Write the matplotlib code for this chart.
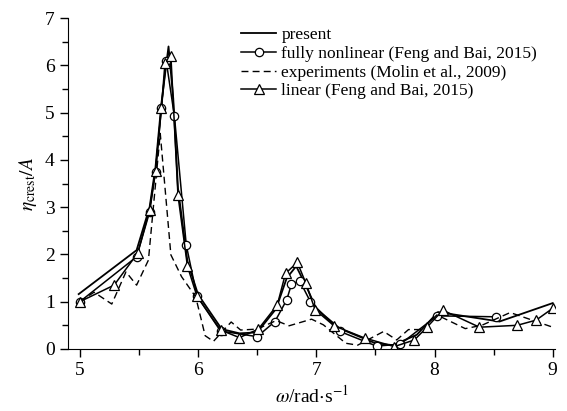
import matplotlib
matplotlib.use('Agg')
import matplotlib.pyplot as plt
from matplotlib.ticker import MultipleLocator

plt.rcParams['font.family'] = 'Liberation Serif'
plt.rcParams['mathtext.fontset'] = 'stix'
plt.rcParams['font.size'] = 14

# present (solid line)
present_x = [4.99, 5.48, 5.59, 5.64, 5.69, 5.75, 5.79, 5.83, 5.91, 6.0, 6.2, 6.35, 6.5,
             6.66, 6.75, 6.83, 6.92, 7.0, 7.2, 7.5, 7.65, 7.85, 8.03, 8.55, 9.0]
present_y = [1.16, 2.09, 3.0, 3.85, 5.2, 6.4, 5.3, 3.4, 1.85, 1.15, 0.42, 0.33, 0.35,
             0.85, 1.5, 1.75, 1.3, 0.85, 0.43, 0.12, 0.08, 0.3, 0.78, 0.58, 0.97]

# fully nonlinear (Feng and Bai, 2015)
nonlin_x = [5.0, 5.48, 5.59, 5.64, 5.69, 5.73, 5.80, 5.90, 5.99, 6.19, 6.5, 6.65, 6.75,
            6.79, 6.86, 6.95, 7.2, 7.51, 7.71, 8.02, 8.52]
nonlin_y = [1.0, 1.95, 2.9, 3.75, 5.1, 6.1, 4.92, 2.2, 1.12, 0.38, 0.26, 0.58, 1.04,
            1.37, 1.44, 1.0, 0.37, 0.06, 0.1, 0.7, 0.68]

# experiments (Molin et al., 2009)
exp_x = [5.0, 5.12, 5.27, 5.39, 5.48, 5.58, 5.68, 5.77, 5.86, 5.98, 6.06, 6.13, 6.28, 6.36,
         6.5, 6.66, 6.77, 6.96, 7.06, 7.25, 7.35, 7.57, 7.68, 7.78, 7.89, 8.02, 8.26, 8.4,
         8.64, 9.0]
exp_y = [1.0, 1.2, 0.95, 1.63, 1.35, 1.88, 4.56, 1.99, 1.53, 1.1, 0.28, 0.16, 0.57, 0.4,
         0.42, 0.6, 0.49, 0.63, 0.51, 0.12, 0.08, 0.37, 0.19, 0.41, 0.41, 0.72, 0.43, 0.5,
         0.77, 0.46]

# linear (Feng and Bai, 2015)
lin_x = [5.0, 5.29, 5.49, 5.59, 5.64, 5.69, 5.72, 5.77, 5.83, 5.91, 5.99, 6.19, 6.35, 6.51,
         6.67, 6.74, 6.84, 6.91, 6.99, 7.15, 7.41, 7.66, 7.83, 7.94, 8.07, 8.38, 8.70, 8.86,
         9.0]
lin_y = [1.0, 1.35, 2.03, 2.95, 3.77, 5.1, 6.05, 6.2, 3.25, 1.75, 1.12, 0.4, 0.24, 0.42,
         0.93, 1.6, 1.83, 1.4, 0.83, 0.49, 0.23, 0.05, 0.19, 0.47, 0.82, 0.46, 0.5, 0.61,
         0.86]

fig = plt.figure(figsize=(5.67, 4.11), dpi=100)
ax = fig.add_axes([0.12, 0.151, 0.859, 0.805])

ax.plot(present_x, present_y, 'k-', lw=1.3, label='present')
ax.plot(nonlin_x, nonlin_y, 'k-', lw=1.1, marker='o', ms=6, mfc='white', mec='k',
        mew=0.9, label='fully nonlinear (Feng and Bai, 2015)')
ax.plot(exp_x, exp_y, 'k--', lw=1.0, dashes=(5, 3), label='experiments (Molin et al., 2009)')
ax.plot(lin_x, lin_y, 'k-', lw=1.1, marker='^', ms=7, mfc='white', mec='k',
        mew=0.9, label='linear (Feng and Bai, 2015)')

ax.set_xlim(4.9, 9.02)
ax.set_ylim(0, 7)
ax.xaxis.set_major_locator(MultipleLocator(1))
ax.xaxis.set_minor_locator(MultipleLocator(0.5))
ax.yaxis.set_major_locator(MultipleLocator(1))
ax.yaxis.set_minor_locator(MultipleLocator(0.5))
ax.tick_params(which='both', direction='out', width=1)
ax.tick_params(which='major', length=6)
ax.tick_params(which='minor', length=4)
ax.spines['top'].set_visible(False)
ax.spines['right'].set_visible(False)

ax.set_xlabel(r'$\omega$/rad$\cdot$s$^{-1}$')
ax.set_ylabel(r'$\eta_{\rm crest}/A$')

ax.legend(loc='upper left', bbox_to_anchor=(0.331, 1.01), frameon=False,
          handlelength=2.0, handletextpad=0.3, labelspacing=0.15, borderpad=0.2,
          fontsize=12.5)

plt.savefig('out.png', dpi=100)
